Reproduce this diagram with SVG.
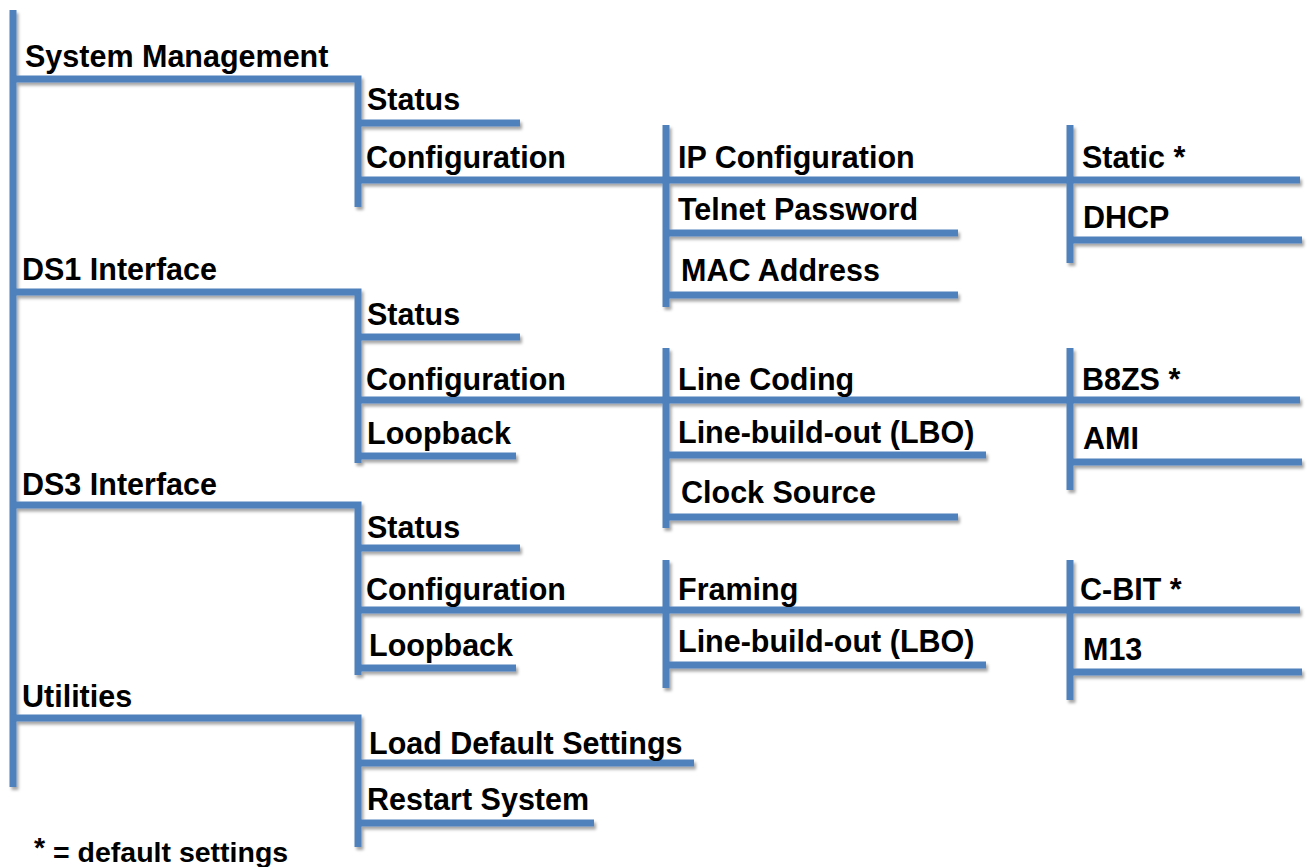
<svg xmlns="http://www.w3.org/2000/svg" width="1308" height="867" viewBox="0 0 1308 867">
<style>
text{font-family:"Liberation Sans",Arial,sans-serif;font-weight:bold;font-size:30.5px;fill:#000}
.ln{fill:none;stroke:#4F81BD;stroke-width:7;stroke-linecap:butt;stroke-linejoin:miter}
.note{font-size:28.5px}
</style>
<defs>
<filter id="sh" x="-5%" y="-5%" width="110%" height="110%">
<feDropShadow dx="2" dy="3" stdDeviation="1.5" flood-color="#000" flood-opacity="0.35"/>
</filter>
</defs>
<rect width="1308" height="867" fill="#fff"/>
<g id="connectors" class="ln" filter="url(#sh)">
<path class="ln" d="M13 10V787"/>
<path class="ln" d="M13 79H358V207"/>
<path class="ln" d="M358 123H520"/>
<path class="ln" d="M358 180H1300"/>
<path class="ln" d="M666 125V307"/>
<path class="ln" d="M666 233H958"/>
<path class="ln" d="M666 295H958"/>
<path class="ln" d="M1070 125V263"/>
<path class="ln" d="M1070 240H1302"/>
<path class="ln" d="M13 292H358V463"/>
<path class="ln" d="M358 337H520"/>
<path class="ln" d="M358 400H1300"/>
<path class="ln" d="M358 456H516"/>
<path class="ln" d="M666 348V528"/>
<path class="ln" d="M666 455H986"/>
<path class="ln" d="M666 517H958"/>
<path class="ln" d="M1070 348V490"/>
<path class="ln" d="M1070 462H1302"/>
<path class="ln" d="M13 505H358V675"/>
<path class="ln" d="M358 548H520"/>
<path class="ln" d="M358 610H1300"/>
<path class="ln" d="M358 668H516"/>
<path class="ln" d="M666 560V688"/>
<path class="ln" d="M666 665H986"/>
<path class="ln" d="M1070 560V700"/>
<path class="ln" d="M1070 672H1302"/>
<path class="ln" d="M13 718H358V847"/>
<path class="ln" d="M358 763H694"/>
<path class="ln" d="M358 823H594"/>
</g>
<g id="sys-mgmt"><text x="25" y="67">System Management</text></g>
<g id="sm-status"><text x="367" y="110">Status</text></g>
<g id="sm-config"><text x="366" y="168">Configuration</text></g>
<g id="ip-config"><text x="678" y="168">IP Configuration</text></g>
<g id="telnet"><text x="678" y="220">Telnet Password</text></g>
<g id="mac"><text x="681" y="281">MAC Address</text></g>
<g id="static"><text x="1082" y="168">Static *</text></g>
<g id="dhcp"><text x="1083" y="228">DHCP</text></g>
<g id="ds1"><text x="22" y="280">DS1 Interface</text></g>
<g id="ds1-status"><text x="367" y="325">Status</text></g>
<g id="ds1-config"><text x="366" y="390">Configuration</text></g>
<g id="ds1-loop"><text x="367" y="444">Loopback</text></g>
<g id="line-coding"><text x="678" y="390">Line Coding</text></g>
<g id="ds1-lbo"><text x="678" y="443">Line-build-out (LBO)</text></g>
<g id="clock"><text x="681" y="503">Clock Source</text></g>
<g id="b8zs"><text x="1082" y="390">B8ZS *</text></g>
<g id="ami"><text x="1083" y="449">AMI</text></g>
<g id="ds3"><text x="22" y="495">DS3 Interface</text></g>
<g id="ds3-status"><text x="367" y="538">Status</text></g>
<g id="ds3-config"><text x="366" y="600">Configuration</text></g>
<g id="ds3-loop"><text x="369" y="656">Loopback</text></g>
<g id="framing"><text x="678" y="600">Framing</text></g>
<g id="ds3-lbo"><text x="678" y="652">Line-build-out (LBO)</text></g>
<g id="cbit"><text x="1080" y="600">C-BIT *</text></g>
<g id="m13"><text x="1083" y="660">M13</text></g>
<g id="utilities"><text x="22" y="707">Utilities</text></g>
<g id="load-default"><text x="369" y="754">Load Default Settings</text></g>
<g id="restart"><text x="367" y="810">Restart System</text></g>
<g id="legend"><text class="note" x="34" y="862"><tspan dy="-5">*</tspan><tspan dy="5"> = default settings</tspan></text></g>
</svg>
